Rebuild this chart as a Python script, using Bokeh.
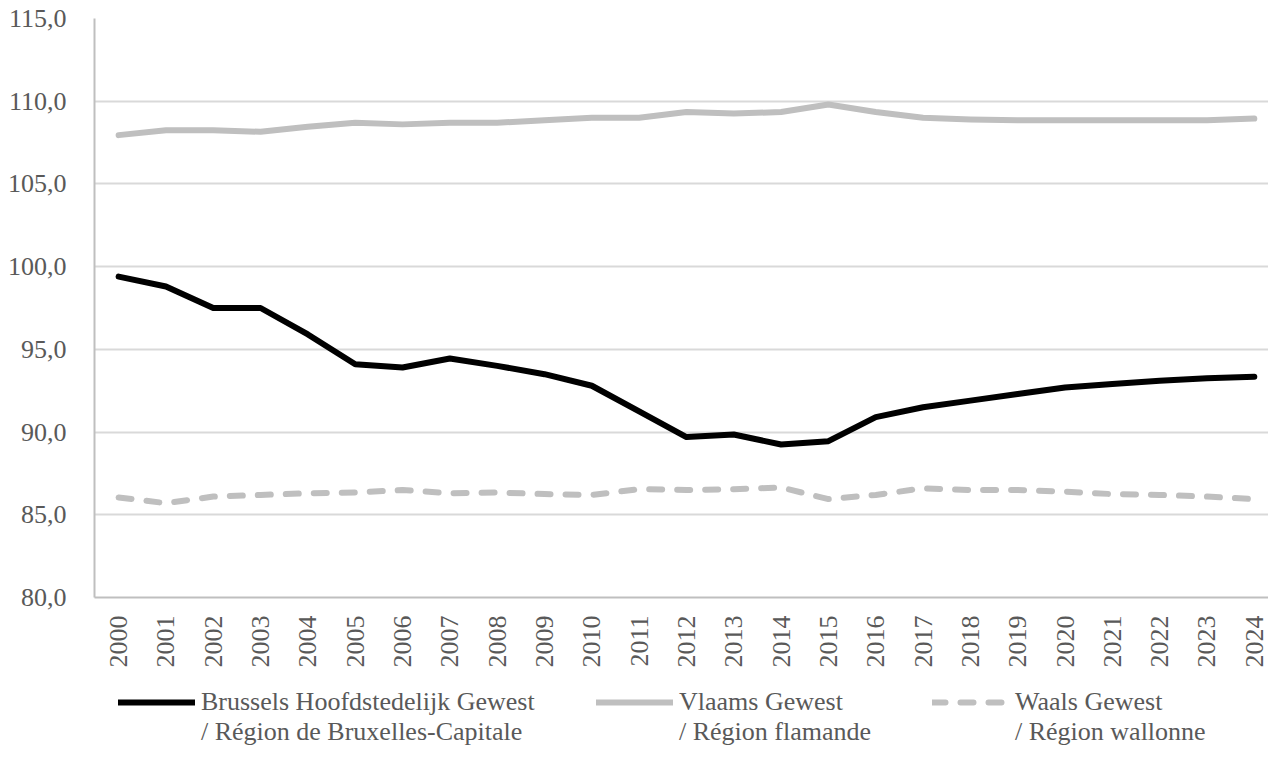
import math
from bokeh.plotting import figure
from bokeh.layouts import column
from bokeh.models import Range1d, FixedTicker, Legend, LegendItem
from bokeh.embed import file_html
from bokeh.resources import INLINE

years = list(range(2000, 2025))
brussels = [99.4, 98.8, 97.5, 97.5, 95.9, 94.1, 93.9, 94.45, 94.0, 93.5, 92.8, 91.25,
            89.7, 89.85, 89.25, 89.45, 90.9, 91.5, 91.9, 92.3, 92.7, 92.9, 93.1, 93.25, 93.35]
vlaams = [107.95, 108.25, 108.25, 108.15, 108.45, 108.7, 108.6, 108.7, 108.7, 108.85, 109.0, 109.0,
          109.35, 109.25, 109.35, 109.8, 109.35, 109.0, 108.9, 108.85, 108.85, 108.85, 108.85, 108.85, 108.95]
waals = [86.05, 85.7, 86.1, 86.2, 86.3, 86.35, 86.5, 86.3, 86.35, 86.25, 86.2, 86.55,
         86.5, 86.55, 86.65, 85.95, 86.2, 86.6, 86.5, 86.5, 86.4, 86.25, 86.2, 86.1, 85.95]
y_ticks = [80, 85, 90, 95, 100, 105, 110, 115]
labels_nl = ["Brussels Hoofdstedelijk Gewest", "Vlaams Gewest", "Waals Gewest"]
labels_fr = ["/ Région de Bruxelles-Capitale", "/ Région flamande", "/ Région wallonne"]

FONT = "Liberation Serif"
TXT = "#595959"
GRID = "#d9d9d9"
GREY = "#bfbfbf"
W = 1268
NAN = float("nan")

p = figure(width=W, height=670, output_backend="svg", toolbar_location=None,
           x_range=Range1d(1999.49, 2024.3), y_range=Range1d(80, 115),
           min_border_left=94, min_border_right=0, min_border_top=18, min_border_bottom=71)
p.outline_line_color = None
p.background_fill_color = "white"
p.border_fill_color = "white"

p.xgrid.grid_line_color = None
p.ygrid.grid_line_color = GRID
p.ygrid.grid_line_width = 2
p.yaxis.ticker = FixedTicker(ticks=y_ticks)
p.yaxis.major_label_overrides = {t: f"{t},0" for t in y_ticks}
p.xaxis.ticker = FixedTicker(ticks=years)
p.xaxis.major_label_orientation = math.pi / 2

for ax in (p.xaxis[0], p.yaxis[0]):
    ax.axis_line_color = GREY
    ax.axis_line_width = 2
    ax.major_tick_line_color = None
    ax.minor_tick_line_color = None
    ax.major_label_text_font = FONT
    ax.major_label_text_font_size = "26px"
    ax.major_label_text_color = TXT
p.yaxis.major_label_standoff = 22
p.xaxis.major_label_standoff = 12

styles = [dict(line_color="black", line_width=6, line_cap="round", line_join="round"),
          dict(line_color=GREY, line_width=6, line_cap="round", line_join="round"),
          dict(line_color=GREY, line_width=6, line_cap="round", line_join="round", line_dash="13 15")]

for series, st in zip([brussels, vlaams, waals], styles):
    p.line(years, series, **st)

# legend strip below the chart (its frame is aligned with the chart's frame)
q = figure(width=W, height=77, output_backend="svg", toolbar_location=None,
           x_axis_type=None, y_axis_type=None, x_range=Range1d(0, 1), y_range=Range1d(0, 1),
           min_border=0)
q.outline_line_color = None
q.grid.visible = False
q.background_fill_color = "white"
q.border_fill_color = "white"
leg_renderers = [q.line([NAN, NAN], [NAN, NAN], **st) for st in styles]
blank = q.line([NAN, NAN], [NAN, NAN], line_alpha=0)

legend_x = [24, 502, 838]
for nl, fr, r, lx in zip(labels_nl, labels_fr, leg_renderers, legend_x):
    lg = Legend(items=[LegendItem(label=nl, renderers=[r]), LegendItem(label=fr, renderers=[blank])],
                location=(lx, 0), orientation="vertical",
                padding=0, margin=0, spacing=0, glyph_width=77, glyph_height=30,
                label_standoff=6, label_height=30, label_text_font=FONT, label_text_font_size="26px",
                label_text_color=TXT, background_fill_alpha=0, border_line_color=None)
    q.add_layout(lg)

open("out.html", "w").write(file_html(column(p, q, spacing=0), INLINE))
